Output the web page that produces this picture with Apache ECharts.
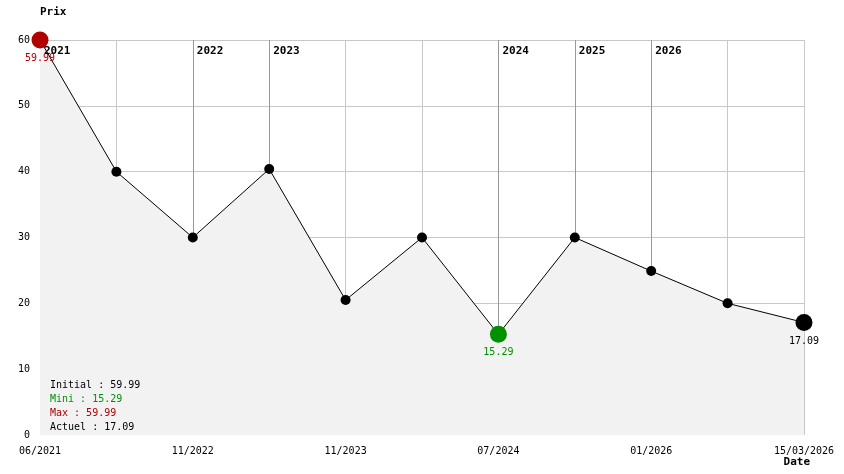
<!DOCTYPE html>
<html>
<head>
<meta charset="utf-8">
<title>Prix</title>
<script src="https://cdn.jsdelivr.net/npm/echarts@6/dist/echarts.min.js"></script>
<style>
  html, body { margin: 0; padding: 0; background: #fff; }
  #main { width: 844px; height: 474px; }
</style>
</head>
<body>
<div id="main"></div>
<script>
// dates des relevés (une étiquette sur deux affichée)
var dates = ['06/2021', '12/2021', '11/2022', '05/2023', '11/2023', '12/2023', '07/2024', '03/2025', '01/2026', '02/2026', '15/03/2026'];
var prices = [59.99, 40, 30, 40.4, 20.5, 30, 15.29, 30, 24.9, 20, 17.09];
// premier relevé de chaque année
var yearIndex = [0, 2, 3, 6, 7, 8];
var yearNames = ['2021', '2022', '2023', '2024', '2025', '2026'];
var yTicks = [0, 10, 20, 30, 40, 50, 60];

var FONT = 'DejaVu Sans Mono';
var RED = '#b00000';
var GREEN = '#009000';

var initial = prices[0];
var last = prices[prices.length - 1];
var mini = Math.min.apply(null, prices);
var maxi = Math.max.apply(null, prices);
var iMin = prices.indexOf(mini);
var iMax = prices.indexOf(maxi);
var iLast = prices.length - 1;

function pointLabel(color) {
  return { show: true, position: 'bottom', distance: 5, color: color, fontFamily: FONT, fontSize: 10, formatter: function (p) { return p.value.toFixed(2); } };
}

var points = prices.map(function (v, i) {
  var d = { value: v };
  if (i === iMax) {
    d.symbolSize = 17; d.itemStyle = { color: RED }; d.label = pointLabel(RED);
  } else if (i === iMin) {
    d.symbolSize = 17; d.itemStyle = { color: GREEN }; d.label = pointLabel(GREEN);
  } else if (i === iLast) {
    d.symbolSize = 17; d.itemStyle = { color: '#000' }; d.label = pointLabel('#000');
  }
  return d;
});

var chart = echarts.init(document.getElementById('main'), null, { renderer: 'canvas' });

var statStyle = function (text, color) {
  return { text: text, fill: color, fontFamily: FONT, fontSize: 10 };
};

chart.setOption({
  animation: false,
  backgroundColor: '#fff',
  textStyle: { fontFamily: FONT, fontSize: 10, color: '#000' },
  grid: { left: 40, right: 40, top: 40, bottom: 39, containLabel: false },
  xAxis: {
    type: 'category',
    data: dates,
    boundaryGap: false,
    name: 'Date',
    nameLocation: 'end',
    nameGap: 6,
    nameTextStyle: { fontFamily: FONT, fontSize: 11, fontWeight: 'bold', align: 'right', verticalAlign: 'top', padding: [22, 0, 0, 0], color: '#000' },
    axisLine: { show: false },
    axisTick: { show: false },
    axisLabel: { interval: 1, margin: 11, color: '#000', fontFamily: FONT, fontSize: 10 },
    splitLine: { show: true, interval: 0, lineStyle: { color: '#c8c8c8', width: 1 } }
  },
  yAxis: {
    type: 'value',
    min: yTicks[0],
    max: yTicks[yTicks.length - 1],
    interval: 10,
    name: 'Prix',
    nameLocation: 'end',
    nameGap: 22,
    nameTextStyle: { fontFamily: FONT, fontSize: 11, fontWeight: 'bold', align: 'left', color: '#000' },
    axisLine: { show: false },
    axisTick: { show: false },
    axisLabel: { margin: 10, color: '#000', fontFamily: FONT, fontSize: 10 },
    splitLine: { show: true, showMinLine: false, lineStyle: { color: '#c8c8c8', width: 1 } }
  },
  series: [
    {
      type: 'line',
      data: points,
      symbol: 'circle',
      symbolSize: 10,
      z: 5,
      itemStyle: { color: '#000' },
      lineStyle: { color: '#000', width: 1 },
      areaStyle: { color: '#f2f2f2', opacity: 1 },
      markLine: {
        silent: true,
        symbol: ['none', 'none'],
        label: { show: false },
        lineStyle: { color: '#999', width: 1, type: 'solid' },
        data: yearIndex.slice(1).map(function (i) { return { xAxis: i }; })
      }
    },
    {
      type: 'scatter',
      symbolSize: 0,
      z: 6,
      silent: true,
      data: yearIndex.map(function (i, k) { return { value: [i, yTicks[yTicks.length - 1]], name: yearNames[k] }; }),
      label: {
        show: true,
        position: [4, 6],
        align: 'left',
        verticalAlign: 'top',
        formatter: '{b}',
        fontFamily: FONT,
        fontSize: 11,
        fontWeight: 'bold',
        color: '#000',
        opacity: 1
      }
    }
  ],
  graphic: {
    elements: [
      { type: 'text', z: 100, left: 50, top: 380, style: statStyle('Initial : ' + initial.toFixed(2), '#000') },
      { type: 'text', z: 100, left: 50, top: 394, style: statStyle('Mini : ' + mini.toFixed(2), GREEN) },
      { type: 'text', z: 100, left: 50, top: 408, style: statStyle('Max : ' + maxi.toFixed(2), RED) },
      { type: 'text', z: 100, left: 50, top: 422, style: statStyle('Actuel : ' + last.toFixed(2), '#000') }
    ]
  }
});
</script>
</body>
</html>
